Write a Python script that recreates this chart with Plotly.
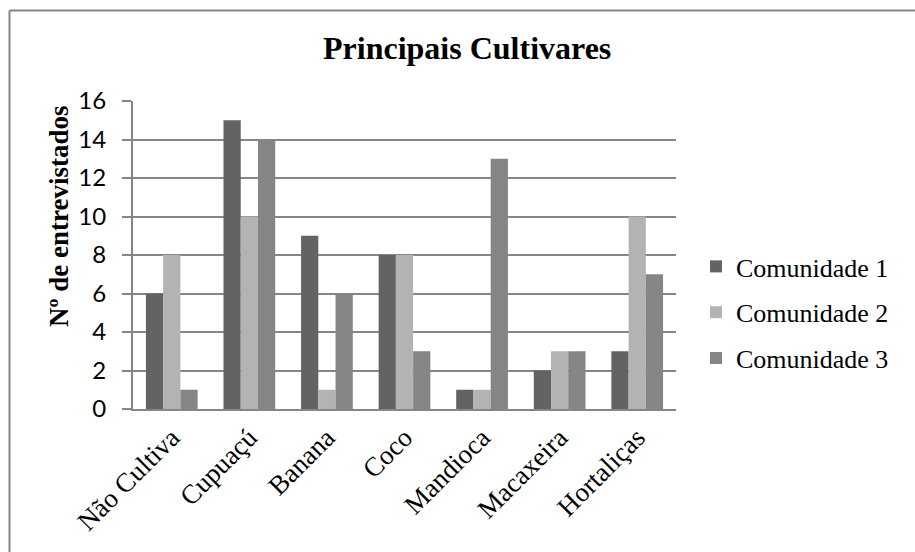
import plotly.graph_objects as go

categories = ["Não Cultiva", "Cupuaçú", "Banana", "Coco", "Mandioca", "Macaxeira", "Hortaliças"]
comunidade_1 = [6, 15, 9, 8, 1, 2, 3]
comunidade_2 = [8, 10, 1, 8, 1, 3, 10]
comunidade_3 = [1, 14, 6, 3, 13, 3, 7]
series_names = ["Comunidade 1", "Comunidade 2", "Comunidade 3"]
y_ticks = [0, 2, 4, 6, 8, 10, 12, 14, 16]

W, H = 915, 552
ML, MR, MT, MB = 133, 239, 101, 143
PW, PH = W - ML - MR, H - MT - MB

def px(x):
    return (x - ML) / PW

def py(y):
    return (H - MB - y) / PH

SERIF = "Liberation Serif, Times New Roman, serif"
SANS = "Lato, Carlito, Calibri, sans-serif"
GRID = "#868686"
colors = ["#636363", "#b3b3b3", "#858585"]

fig = go.Figure()
for name, vals, col in zip(series_names, [comunidade_1, comunidade_2, comunidade_3], colors):
    fig.add_trace(go.Bar(x=categories, y=vals, name=name, marker=dict(color=col, line=dict(width=0)),
                         legendgroup=name))

fig.update_layout(
    width=W, height=H,
    margin=dict(l=ML, r=MR, t=MT, b=MB, pad=0),
    paper_bgcolor="white", plot_bgcolor="white",
    barmode="group", bargap=1 / 3, bargroupgap=0,
    showlegend=True,
    legend=dict(x=px(696), y=py(243), xanchor="left", yanchor="top",
                font=dict(family=SERIF, size=26, color="black"),
                tracegroupgap=9, bgcolor="rgba(0,0,0,0)", itemwidth=30),
    xaxis=dict(showgrid=False, showline=True, linecolor=GRID, linewidth=2,
               ticks="", tickangle=-45,
               tickfont=dict(family=SERIF, size=27, color="black")),
    yaxis=dict(range=[0, 16], tickvals=y_ticks, showgrid=True, gridcolor=GRID, gridwidth=2,
               showline=True, linecolor=GRID, linewidth=2, zeroline=False,
               ticks="outside", ticklen=9, tickcolor=GRID, tickwidth=2,
               ticklabelstandoff=11,
               tickfont=dict(family=SANS, size=24, color="black")),
    annotations=[
        dict(text="<b>Principais Cultivares</b>", xref="paper", yref="paper",
             x=px(467), y=py(48), xanchor="center", yanchor="middle", showarrow=False,
             font=dict(family=SERIF, size=32, color="black")),
        dict(text="<b>Nº de entrevistados</b>", xref="paper", yref="paper",
             x=px(59), y=py(217), xanchor="center", yanchor="middle", showarrow=False,
             textangle=-90, font=dict(family=SERIF, size=27, color="black")),
    ],
    shapes=[
        dict(type="line", xref="paper", yref="paper", x0=px(9.5), y0=py(560), x1=px(9.5), y1=py(10.5),
             line=dict(color=GRID, width=2)),
        dict(type="line", xref="paper", yref="paper", x0=px(9.5), y0=py(10.5), x1=px(930), y1=py(10.5),
             line=dict(color=GRID, width=2)),
    ],
)

fig.write_html("out.html")
